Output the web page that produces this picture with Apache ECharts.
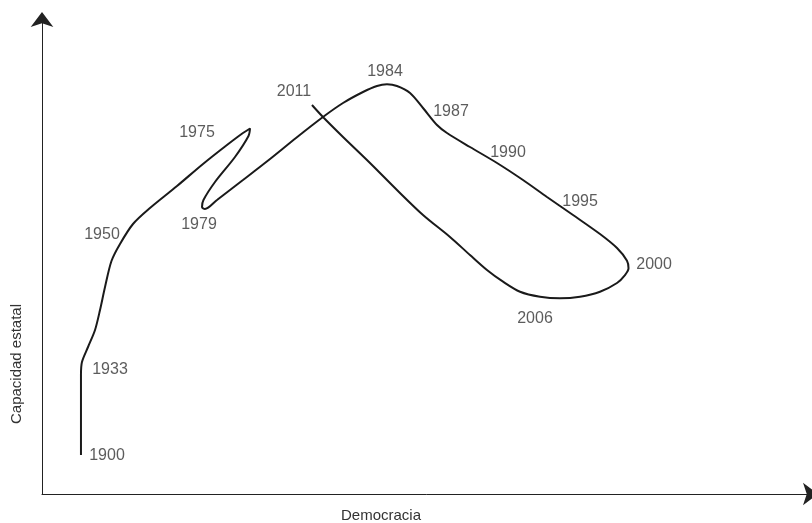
<!DOCTYPE html>
<html>
<head>
<meta charset="utf-8">
<script src="https://cdn.jsdelivr.net/npm/echarts@6/dist/echarts.min.js"></script>
<style>
  html, body { margin: 0; padding: 0; background: #fff; }
  #chart { width: 812px; height: 523px; }
</style>
</head>
<body>
<div id="chart"></div>
<script>
// trayectoria (democracia, capacidad estatal), escala 0-100 en ambos ejes
const democracia = [
  5.07, 5.07, 5.07, 5.20, 5.99, 6.90, 7.55, 8.20, 9.04, 10.15,
  11.84, 14.05, 17.57, 20.95, 24.07, 26.15, 27.07, 26.87, 25.11, 22.51,
  21.01, 20.82, 21.21, 22.77, 26.15, 29.67, 33.05, 36.56, 39.17, 41.77,
  43.59, 44.89, 46.19, 47.89, 49.58, 51.40, 52.70, 55.69, 59.21, 62.59,
  65.71, 69.10, 72.61, 74.82, 76.12, 76.32, 75.86, 74.82, 72.61, 70.01,
  67.40, 64.80, 62.20, 59.99, 57.90, 55.69, 53.09, 49.58, 46.19, 42.68,
  39.17, 36.56, 35.13
];
const capacidad = [
  8.22, 17.70, 25.08, 27.82, 30.98, 34.56, 38.78, 43.62, 49.10, 52.69,
  56.90, 60.27, 64.91, 69.55, 73.55, 76.08, 77.03, 75.45, 71.02, 65.75,
  61.96, 60.48, 60.06, 61.96, 66.17, 70.60, 75.03, 79.45, 82.40, 84.72,
  85.99, 86.34, 85.99, 84.51, 81.35, 77.77, 76.08, 73.13, 69.76, 66.17,
  62.59, 58.80, 54.79, 51.84, 49.17, 47.57, 46.15, 44.47, 42.63, 41.58,
  41.24, 41.58, 42.63, 44.74, 47.21, 50.37, 54.16, 58.80, 64.07, 69.76,
  75.24, 79.45, 81.98
];

// etiquetas de años
const years   = ['1900', '1933', '1950', '1975', '1979', '2011', '1984', '1987', '1990', '1995', '2000', '2006'];
const yearsX  = [8.46, 8.85, 7.81, 20.17, 20.43, 32.79, 44.63, 53.22, 60.64, 70.01, 79.64, 64.15];
const yearsY  = [8.01, 26.13, 54.58, 76.08, 56.69, 84.72, 88.94, 80.51, 71.87, 61.54, 48.26, 36.88];

const xTitle = 'Democracia';
const yTitle = 'Capacidad estatal';

const font = "'Liberation Sans', Arial, sans-serif";

const myChart = echarts.init(document.getElementById('chart'));

const axisCommon = {
  type: 'value',
  min: 0,
  max: 100,
  axisLine: {
    show: true,
    symbol: ['none', 'arrow'],
    symbolSize: [17, 15],
    symbolOffset: [0, 7.5],
    lineStyle: { color: '#222', width: 1 }
  },
  axisTick: { show: false },
  axisLabel: { show: false },
  splitLine: { show: false }
};

const option = {
  animation: false,
  backgroundColor: '#fff',
  grid: { left: 42, right: 1.5, top: 19.5, bottom: 29 },
  xAxis: axisCommon,
  yAxis: axisCommon,
  graphic: [
    {
      type: 'text',
      x: 381, y: 516,
      style: {
        text: xTitle, fill: '#333', font: '15px ' + font,
        textAlign: 'center', textVerticalAlign: 'middle'
      }
    },
    {
      type: 'text',
      x: 17, y: 364,
      rotation: Math.PI / 2,
      style: {
        text: yTitle, fill: '#333', font: '15px ' + font,
        textAlign: 'center', textVerticalAlign: 'middle'
      }
    }
  ],
  series: [
    {
      type: 'line',
      data: democracia.map((x, i) => [x, capacidad[i]]),
      smooth: 0.3,
      showSymbol: false,
      lineStyle: { color: '#1a1a1a', width: 2 }
    },
    {
      type: 'scatter',
      data: years.map((y, i) => [yearsX[i], yearsY[i], y]),
      symbolSize: 1,
      itemStyle: { color: 'rgba(0,0,0,0)' },
      label: {
        show: true,
        position: 'inside',
        formatter: p => p.data[2],
        color: '#333',
        fontSize: 16,
        fontFamily: font
      }
    }
  ]
};

myChart.setOption(option);
</script>
</body>
</html>
